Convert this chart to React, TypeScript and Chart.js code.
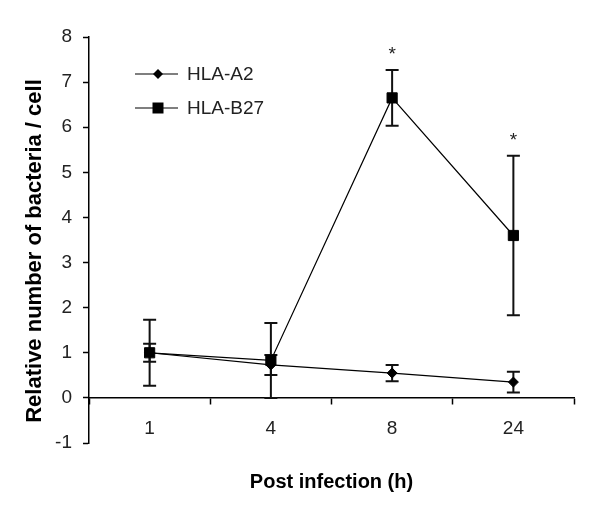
import React, { useEffect, useRef } from "react";
import { Chart, registerables } from "chart.js";

Chart.register(...registerables);

const categories = ["1", "4", "8", "24"];
const a2Mean = [1.0, 0.73, 0.55, 0.35];
const a2Err = [0.2, 0.22, 0.18, 0.23];
const b27Mean = [1.0, 0.83, 6.65, 3.6];
const b27Err = [0.73, 0.83, 0.62, 1.77];
const significance = ["", "", "*", "*"];
const seriesNames = ["HLA-A2", "HLA-B27"];
const xTitle = "Post infection (h)";
const yTitle = "Relative number of bacteria / cell";

const FONT = "'Liberation Sans', Arial, sans-serif";

const errorBarPlugin = {
  id: "errorBars",
  beforeDatasetsDraw(chart: any) {
    const ctx = chart.ctx;
    const ys = chart.scales.y;
    const errs = [a2Err, b27Err];
    ctx.save();
    ctx.strokeStyle = "#111";
    ctx.lineWidth = 2;
    chart.data.datasets.forEach((ds: any, di: number) => {
      const meta = chart.getDatasetMeta(di);
      meta.data.forEach((pt: any, i: number) => {
        const v = ds.data[i];
        const e = errs[di][i];
        const x = pt.x;
        const yTop = ys.getPixelForValue(v + e);
        const yBot = ys.getPixelForValue(v - e);
        ctx.beginPath();
        ctx.moveTo(x, yTop);
        ctx.lineTo(x, yBot);
        ctx.moveTo(x - 6.5, yTop);
        ctx.lineTo(x + 6.5, yTop);
        ctx.moveTo(x - 6.5, yBot);
        ctx.lineTo(x + 6.5, yBot);
        ctx.stroke();
      });
    });
    ctx.restore();
  },
  afterDatasetsDraw(chart: any) {
    const ctx = chart.ctx;
    const ys = chart.scales.y;
    const xs = chart.scales.x;
    ctx.save();
    ctx.fillStyle = "#222";
    ctx.font = `19px ${FONT}`;
    ctx.textAlign = "center";
    ctx.textBaseline = "alphabetic";
    significance.forEach((s, i) => {
      if (!s) return;
      const top = Math.max(a2Mean[i] + a2Err[i], b27Mean[i] + b27Err[i]);
      ctx.fillText(s, xs.getPixelForValue(i), ys.getPixelForValue(top) - 10);
    });
    ctx.restore();
  },
};

const legendPlugin = {
  id: "customLegend",
  afterDraw(chart: any) {
    const ctx = chart.ctx;
    const { left, top } = chart.chartArea;
    ctx.save();
    const rows = [
      { name: seriesNames[0], style: "diamond", y: top + 37 },
      { name: seriesNames[1], style: "square", y: top + 71 },
    ];
    rows.forEach((r) => {
      ctx.strokeStyle = "#000";
      ctx.lineWidth = 1.2;
      ctx.beginPath();
      ctx.moveTo(left + 46, r.y);
      ctx.lineTo(left + 89, r.y);
      ctx.stroke();
      const cx = left + 69;
      ctx.fillStyle = "#000";
      ctx.beginPath();
      if (r.style === "diamond") {
        ctx.moveTo(cx - 5, r.y);
        ctx.lineTo(cx, r.y - 5);
        ctx.lineTo(cx + 5, r.y);
        ctx.lineTo(cx, r.y + 5);
        ctx.closePath();
      } else {
        ctx.rect(cx - 5.5, r.y - 5.5, 11, 11);
      }
      ctx.fill();
      ctx.fillStyle = "#222";
      ctx.font = `19px ${FONT}`;
      ctx.textAlign = "left";
      ctx.textBaseline = "middle";
      ctx.fillText(r.name, left + 98, r.y + 1);
    });
    // y axis title
    const { bottom } = chart.chartArea;
    ctx.translate(left - 54, (top + bottom) / 2 + 11);
    ctx.rotate(-Math.PI / 2);
    ctx.fillStyle = "#000";
    ctx.font = `bold 22px ${FONT}`;
    ctx.textAlign = "center";
    ctx.textBaseline = "middle";
    ctx.fillText(yTitle, 0, 0);
    ctx.restore();
  },
};

export default function App() {
  const ref = useRef<HTMLCanvasElement>(null);
  useEffect(() => {
    if (!ref.current) return;
    const chart = new Chart(ref.current, {
      type: "line",
      data: {
        labels: categories,
        datasets: [
          {
            label: seriesNames[0],
            data: a2Mean,
            borderColor: "#000",
            backgroundColor: "#000",
            borderWidth: 1.2,
            pointStyle: "rectRot",
            pointRadius: 5,
            pointBorderWidth: 1,
            tension: 0,
          },
          {
            label: seriesNames[1],
            data: b27Mean,
            borderColor: "#000",
            backgroundColor: "#000",
            borderWidth: 1.2,
            pointStyle: "rect",
            pointRadius: 7.2,
            pointBorderWidth: 1,
            tension: 0,
          },
        ],
      },
      options: {
        animation: false,
        responsive: false,
        devicePixelRatio: 1,
        layout: { padding: { left: 14, right: 26, top: 37, bottom: 4 } },
        plugins: {
          legend: { display: false },
          tooltip: { enabled: false },
          title: {
            display: true,
            text: xTitle,
            position: "bottom",
            fullSize: false,
            color: "#000",
            font: { size: 20, weight: "bold", family: FONT },
            padding: { top: 27, bottom: 10 },
          },
        },
        scales: {
          x: {
            type: "category",
            offset: true,
            position: { y: 0 } as any,
            afterFit: (s: any) => {
              s.height = 10;
            },
            grid: {
              display: true,
              drawOnChartArea: false,
              drawTicks: true,
              tickLength: 6,
              tickColor: "#000",
              tickWidth: 1.5,
              offset: true,
            },
            border: { display: true, color: "#000", width: 1.5 },
            ticks: {
              color: "#222",
              padding: 13,
              font: { size: 19, family: FONT },
            },
          },
          y: {
            type: "linear",
            min: -1,
            max: 8,
            position: "left",
            afterFit: (s: any) => {
              s.width = 75;
            },
            grid: {
              display: true,
              drawOnChartArea: false,
              drawTicks: true,
              tickLength: 6,
              tickColor: "#000",
              tickWidth: 1.5,
            },
            border: { display: true, color: "#000", width: 1.5 },
            ticks: {
              stepSize: 1,
              color: "#222",
              padding: 11,
              font: { size: 19, family: FONT },
            },
          },
        },
      },
      plugins: [errorBarPlugin, legendPlugin],
    });
    return () => chart.destroy();
  }, []);
  return (
    <div style={{ position: "absolute", left: 0, top: 0, width: 600, height: 508, background: "#fff" }}>
      <canvas ref={ref} width={600} height={508} />
    </div>
  );
}
